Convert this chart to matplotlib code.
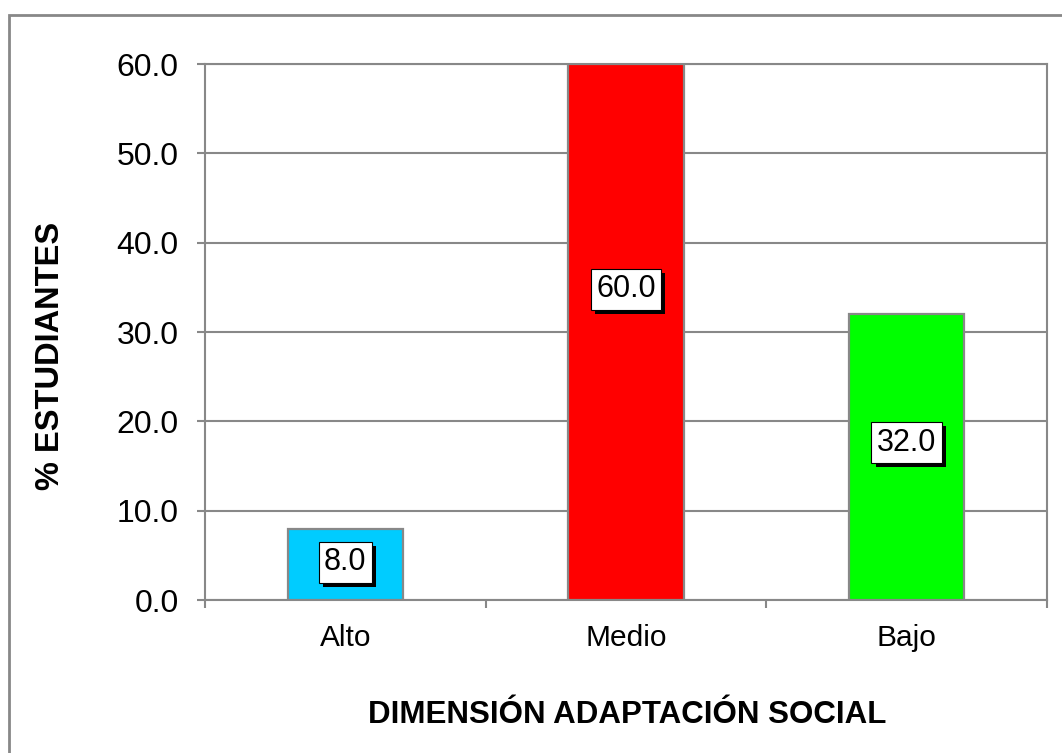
#!/usr/bin/env python3

import matplotlib

matplotlib.use("Agg")
import matplotlib.pyplot as plt
import matplotlib.patches as mpatches
import matplotlib.patheffects as pe

categories = ["Alto", "Medio", "Bajo"]
percentages = [8.0, 60.0, 32.0]
bar_colors = ["#00CCFF", "#FF0000", "#00FF00"]
# where the value boxes sit (in data units)
label_y = [4.2, 34.8, 17.6]
y_ticks = [0, 10, 20, 30, 40, 50, 60]

GRAY = "#888888"

plt.rcParams["font.family"] = ["Liberation Sans", "DejaVu Sans"]


def draw():
    fig = plt.figure(figsize=(10.62, 7.53), dpi=100)
    ax = fig.add_axes([205 / 1062, 1 - 600 / 753, 842 / 1062, 536 / 753])

    x = list(range(len(categories)))
    ax.bar(x, percentages, width=0.41, color=bar_colors,
           edgecolor=GRAY, linewidth=1.6, zorder=3)

    ax.set_xlim(-0.5, len(categories) - 0.5)
    ax.set_ylim(0, 60)

    # gridlines and spines
    ax.set_yticks(y_ticks, labels=[f"{v:.1f}" for v in y_ticks])
    ax.yaxis.grid(True, color=GRAY, linewidth=1.5, zorder=0)
    ax.set_axisbelow(True)
    for s in ax.spines.values():
        s.set_color(GRAY)
        s.set_linewidth(1.5)

    # category boundaries get the tick marks, centers get the labels
    ax.set_xticks([i - 0.5 for i in range(len(categories) + 1)], labels=[])
    ax.set_xticks(x, labels=categories, minor=True)
    ax.tick_params(axis="x", which="major", length=6, width=1.5,
                   color=GRAY, direction="out")
    ax.tick_params(axis="x", which="minor", length=0, pad=17, labelsize=21.5)
    ax.tick_params(axis="y", length=6, width=1.5, color=GRAY,
                   direction="out", pad=13, labelsize=23)

    # value boxes with a black drop shadow
    for xi, v, ly in zip(x, percentages, label_y):
        t = ax.text(xi, ly, f"{v:.1f}", ha="center", va="center",
                    fontsize=22, color="black", zorder=5,
                    bbox=dict(boxstyle="square,pad=0.18", fc="white",
                              ec="black", lw=0.8))
        t.get_bbox_patch().set_path_effects([
            pe.SimplePatchShadow(offset=(3, -3), shadow_rgbFace="black",
                                 alpha=1.0),
            pe.Normal(),
        ])

    fig.text(51 / 1062, 1 - 356 / 753, "% ESTUDIANTES", rotation=90,
             ha="center", va="center", fontsize=23.5, fontweight="bold")
    fig.text(627 / 1062, 1 - 715 / 753, "DIMENSIÓN ADAPTACIÓN SOCIAL",
             ha="center", va="center", fontsize=22.5, fontweight="bold")

    # outer chart frame (right and bottom edges fall outside the image)
    frame = mpatches.Rectangle((9 / 1062, -0.2), 1.2, 1.0 - 15 / 753 + 0.2,
                               transform=fig.transFigure, fill=False,
                               edgecolor=GRAY, linewidth=2, clip_on=False)
    fig.patches.append(frame)

    fig.savefig("out.png", dpi=100)


if __name__ == "__main__":
    draw()
